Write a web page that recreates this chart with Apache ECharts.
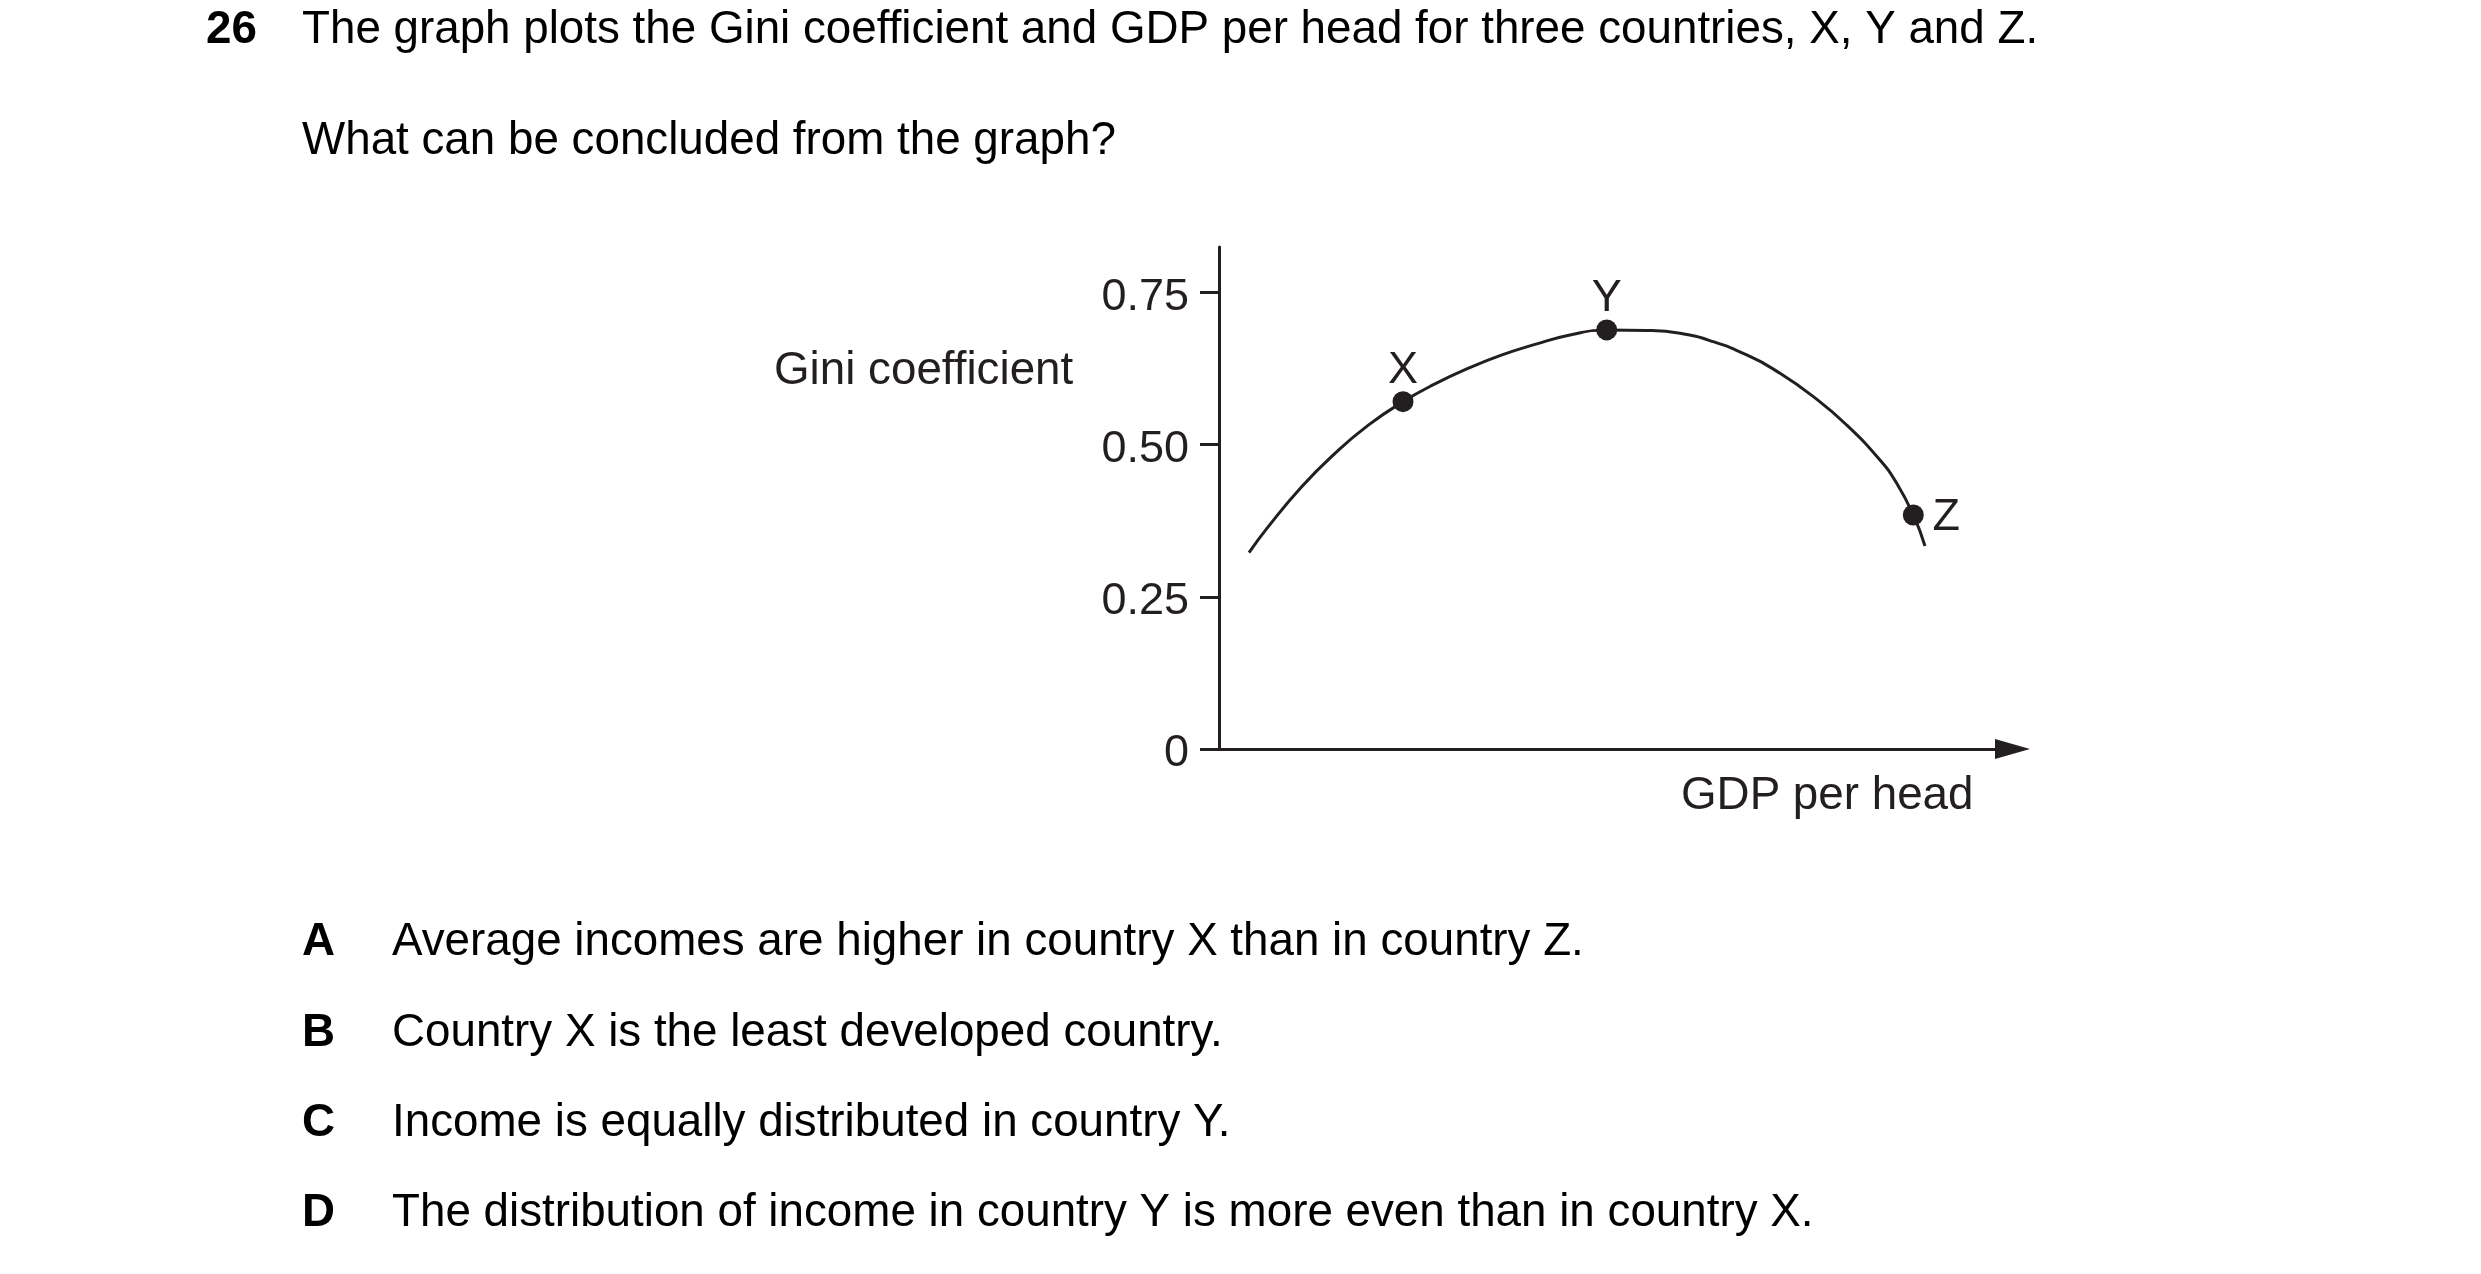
<!DOCTYPE html>
<html><head><meta charset="utf-8">
<script src="https://cdn.jsdelivr.net/npm/echarts@6/dist/echarts.min.js"></script>
<style>html,body{margin:0;padding:0;background:#fff}#c{width:2481px;height:1274px}</style>
</head><body><div id="c"></div>
<script>
// ---- data ----
const curveGdp  = [3.78, 6.21, 10.42, 14.62, 18.82, 23.19, 27.22, 31.38, 35.66, 39.82, 44.23, 48.86, 53.90, 58.10, 62.29, 66.50, 70.70, 74.90, 79.10, 83.30, 85.41, 87.50, 88.97];
const curveGini = [0.3224, 0.3651, 0.4308, 0.4856, 0.5318, 0.5704, 0.5995, 0.6249, 0.6471, 0.6644, 0.6800, 0.6882, 0.6874, 0.6827, 0.6689, 0.6471, 0.6170, 0.5786, 0.5321, 0.4746, 0.4364, 0.3843, 0.3334];
const countries    = ['X', 'Y', 'Z'];
const countryGdp   = [23.19, 48.86, 87.50];
const countryGini  = [0.5704, 0.6882, 0.3843];
const yTickValues  = [0, 0.25, 0.5, 0.75];
const yTickLabels  = ['0', '0.25', '0.50', '0.75'];
const yAxisTitle   = 'Gini coefficient';
const xAxisTitle   = 'GDP per head';
const questionNumber = '26';
const questionLines  = ['The graph plots the Gini coefficient and GDP per head for three countries, X, Y and Z.',
                        'What can be concluded from the graph?'];
const optionLetters = ['A', 'B', 'C', 'D'];
const optionTexts   = ['Average incomes are higher in country X than in country Z.',
                       'Country X is the least developed country.',
                       'Income is equally distributed in country Y.',
                       'The distribution of income in country Y is more even than in country X.'];

// ---- styling ----
const INK = '#231f20';
const FF = '"Liberation Sans", Arial, Helvetica, sans-serif';
const FS = 45.75;
const txt = (s, x, y, bold, color) => ({
  type: 'text', x: x, y: y, silent: true,
  style: { text: s, fill: color || '#000', font: (bold ? 'bold ' : '') + FS + 'px ' + FF, verticalAlign: 'middle', align: 'left' }
});

const graphics = [];
graphics.push(txt(questionNumber, 206, 30, true));
graphics.push(txt(questionLines[0], 302, 30, false));
graphics.push(txt(questionLines[1], 302, 141, false));
const optY = [942.5, 1033.5, 1123.5, 1213.5];
optionLetters.forEach((l, i) => {
  graphics.push(txt(l, 302, optY[i], true));
  graphics.push(txt(optionTexts[i], 392, optY[i], false));
});
graphics.push(txt(yAxisTitle, 774, 371, false, INK));
graphics.push(txt(xAxisTitle, 1681, 796, false, INK));

const labelOffsets = [[0, -31.5], [0, -31.5], [33, 2.5]];

const chart = echarts.init(document.getElementById('c'), null, { renderer: 'canvas' });
chart.setOption({
  animation: false,
  backgroundColor: '#fff',
  grid: { left: 1219, top: 247, right: 468.5, bottom: 525, containLabel: false, outerBoundsMode: 'none' },
  xAxis: {
    type: 'value', min: 0, max: 100,
    axisLine: { show: true, onZero: false, symbol: ['none', 'triangle'], symbolSize: [20, 35],
                lineStyle: { color: INK, width: 3 } },
    axisTick: { show: false }, axisLabel: { show: false }, splitLine: { show: false }
  },
  yAxis: {
    type: 'value', min: 0, max: 0.8244,
    axisLine: { show: true, onZero: false, lineStyle: { color: INK, width: 3 } },
    axisTick: { show: true, length: 19, customValues: yTickValues, lineStyle: { color: INK, width: 3 } },
    axisLabel: {
      show: true, margin: 30, customValues: yTickValues, verticalAlign: 'top', lineHeight: 10,
      color: INK, fontSize: 45, fontFamily: FF,
      formatter: v => { const i = yTickValues.findIndex(t => Math.abs(t - v) < 1e-9); return i >= 0 ? yTickLabels[i] : ''; }
    },
    splitLine: { show: false }
  },
  series: [
    {
      type: 'line', smooth: 0.5, showSymbol: false, silent: true,
      data: curveGdp.map((g, i) => [g, curveGini[i]]),
      lineStyle: { color: INK, width: 3 }, z: 2
    },
    {
      type: 'scatter', symbol: 'circle', symbolSize: 21, silent: true, z: 3,
      itemStyle: { color: INK, opacity: 1 },
      data: countries.map((c, i) => ({
        name: c, value: [countryGdp[i], countryGini[i]],
        label: { show: true, position: 'inside', offset: labelOffsets[i], formatter: '{b}',
                 color: INK, fontSize: 45, fontFamily: FF, align: 'center', verticalAlign: 'middle' }
      }))
    }
  ],
  graphic: graphics
});
</script>
</body></html>
